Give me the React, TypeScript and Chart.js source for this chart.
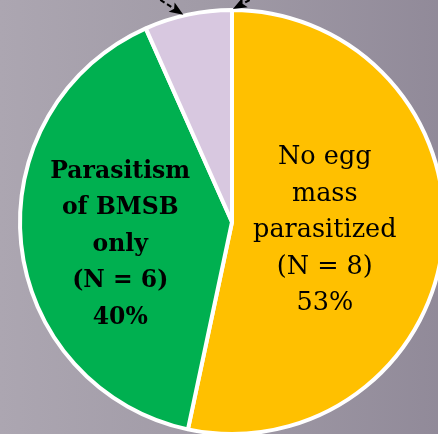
import React, { useEffect, useRef } from "react";
import { Chart, registerables } from "chart.js";

Chart.register(...registerables);

const categories = ["No egg mass parasitized", "Parasitism of BMSB only", "Other"];
const counts = [8, 6, 1];
const colors = ["#FFC000", "#00B050", "#D8C8E0"];
const labelLines = [
  ["No egg", "mass", "parasitized", "(N = 8)", "53%"],
  ["Parasitism", "of BMSB", "only", "(N = 6)", "40%"],
  [],
];
const labelBold = [false, true, false];
const labelSize = [25.5, 23.5, 0];
const labelRadiusRatio = [0.44, 0.53, 0];

const labelPlugin = {
  id: "sliceLabels",
  afterDatasetsDraw(chart: any) {
    const ctx = chart.ctx;
    const meta = chart.getDatasetMeta(0);
    meta.data.forEach((arc: any, i: number) => {
      const lines = labelLines[i];
      if (!lines.length) return;
      const { x, y, startAngle, endAngle, outerRadius } = arc.getProps(
        ["x", "y", "startAngle", "endAngle", "outerRadius"],
        true
      );
      const mid = (startAngle + endAngle) / 2;
      const r = outerRadius * labelRadiusRatio[i];
      const cx = x + Math.cos(mid) * r;
      const cy = y + Math.sin(mid) * r + (i === 1 ? 11 : -1);
      ctx.save();
      ctx.fillStyle = "#000";
      ctx.textAlign = "center";
      ctx.textBaseline = "middle";
      ctx.font = `${labelBold[i] ? "bold " : ""}${labelSize[i]}px "DejaVu Serif", serif`;
      const lh = 36.5;
      const top = cy - ((lines.length - 1) * lh) / 2;
      lines.forEach((t, k) => ctx.fillText(t, cx, top + k * lh));
      ctx.restore();
    });
  },
};

function drawArrow(ctx: any, tx: number, ty: number, fx: number, fy: number) {
  ctx.save();
  ctx.strokeStyle = "#000";
  ctx.fillStyle = "#000";
  ctx.lineWidth = 2;
  const ang = Math.atan2(ty - fy, tx - fx);
  const head = 15;
  const bx = tx - Math.cos(ang) * (head - 2);
  const by = ty - Math.sin(ang) * (head - 2);
  ctx.setLineDash([5, 3]);
  ctx.beginPath();
  ctx.moveTo(fx, fy);
  ctx.lineTo(bx, by);
  ctx.stroke();
  ctx.setLineDash([]);
  ctx.beginPath();
  ctx.moveTo(tx, ty);
  ctx.lineTo(tx - Math.cos(ang - 0.38) * head, ty - Math.sin(ang - 0.38) * head);
  ctx.lineTo(tx - Math.cos(ang) * (head - 4), ty - Math.sin(ang) * (head - 4));
  ctx.lineTo(tx - Math.cos(ang + 0.38) * head, ty - Math.sin(ang + 0.38) * head);
  ctx.closePath();
  ctx.fill();
  ctx.restore();
}

const arrowPlugin = {
  id: "arrows",
  afterDraw(chart: any) {
    const ctx = chart.ctx;
    const meta = chart.getDatasetMeta(0);
    const arc = meta.data[2];
    const { x, y, startAngle, endAngle, outerRadius } = arc.getProps(
      ["x", "y", "startAngle", "endAngle", "outerRadius"],
      true
    );
    const r = outerRadius + 1;
    const a1 = startAngle + (endAngle - startAngle) * 0.45;
    const a2 = endAngle + 0.004;
    const t1x = x + Math.cos(a1) * r;
    const t1y = y + Math.sin(a1) * r;
    const t2x = x + Math.cos(a2) * r;
    const t2y = y + Math.sin(a2) * r;
    drawArrow(ctx, t1x, t1y, t1x - 50, t1y - 32);
    drawArrow(ctx, t2x, t2y, t2x + 45, t2y - 24);
  },
};

export default function App() {
  const ref = useRef<HTMLCanvasElement>(null);
  useEffect(() => {
    document.body.style.margin = "0";
    const chart = new Chart(ref.current!, {
      type: "pie",
      data: {
        labels: categories,
        datasets: [
          {
            data: counts,
            backgroundColor: colors,
            borderColor: "#ffffff",
            borderWidth: 4,
            hoverOffset: 0,
          },
        ],
      },
      options: {
        responsive: false,
        animation: false,
        radius: 212,
        layout: { padding: { top: 10, bottom: 0, left: 0, right: 0 } },
        plugins: { legend: { display: false }, tooltip: { enabled: false } },
      } as any,
      plugins: [labelPlugin, arrowPlugin],
    });
    return () => chart.destroy();
  }, []);
  return (
    <div
      style={{
        position: "fixed",
        left: 0,
        top: 0,
        width: 438,
        height: 434,
        overflow: "hidden",
        background: "linear-gradient(to right, #aca6b1, #a09aa6 50%, #918a99)",
      }}
    >
      <canvas ref={ref} width={464} height={434} style={{ width: 464, height: 434, display: "block" }} />
    </div>
  );
}
